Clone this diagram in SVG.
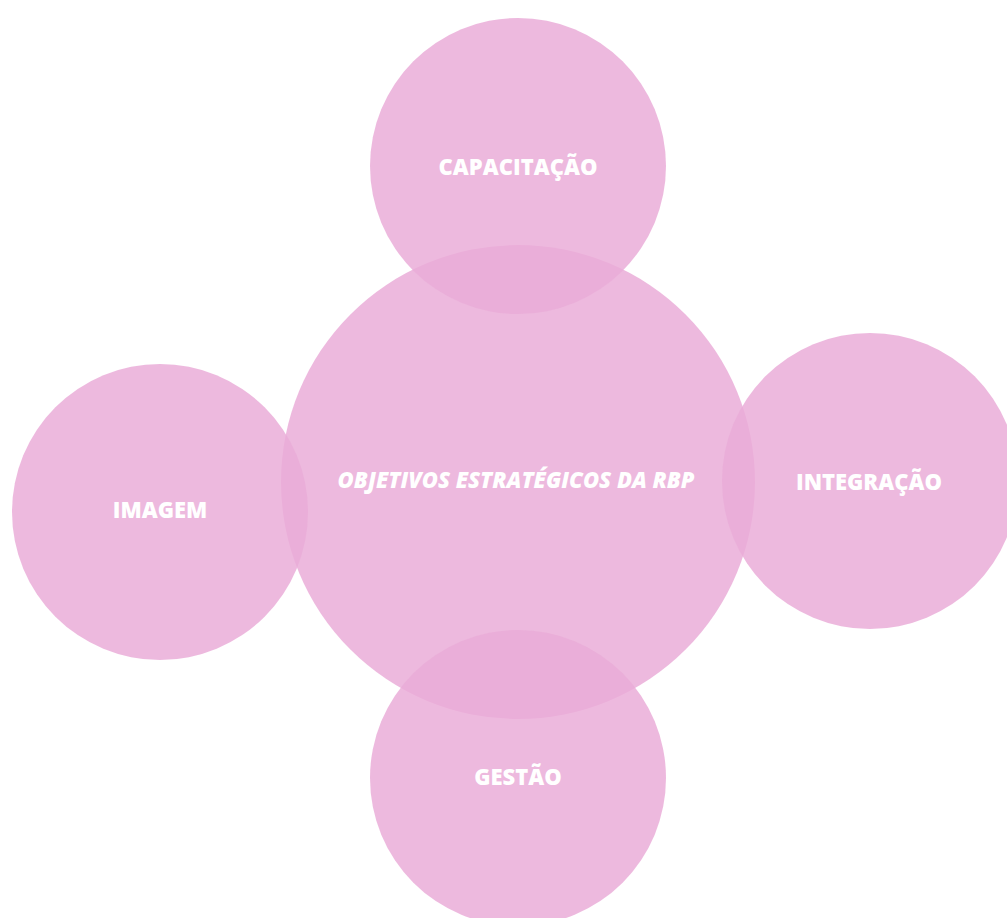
<svg xmlns="http://www.w3.org/2000/svg" width="1007" height="918" viewBox="0 0 1007 918">
<style>
.c{fill:#EAACD8;fill-opacity:0.84}
.t{font-family:"Open Sans","Liberation Sans",sans-serif;font-weight:800;fill:#ffffff;text-anchor:middle;font-size:22px}
.ti{font-style:italic;font-size:22px}
</style>
<rect width="1007" height="918" fill="#ffffff"/>
<g id="connectors"/>
<g id="center"><circle class="c" cx="518" cy="482" r="237"/></g>
<g id="capacitacao"><circle class="c" cx="518" cy="166" r="148"/></g>
<g id="integracao"><circle class="c" cx="870" cy="481" r="148"/></g>
<g id="imagem"><circle class="c" cx="160" cy="512" r="148"/></g>
<g id="gestao"><circle class="c" cx="518" cy="778" r="148"/></g>
<g id="labels">
<text class="t" x="518" y="175">CAPACITAÇÃO</text>
<text class="t ti" x="516" y="488">OBJETIVOS ESTRATÉGICOS DA RBP</text>
<text class="t" x="869" y="490">INTEGRAÇÃO</text>
<text class="t" x="160" y="518">IMAGEM</text>
<text class="t" x="518" y="785">GESTÃO</text>
</g>
</svg>
